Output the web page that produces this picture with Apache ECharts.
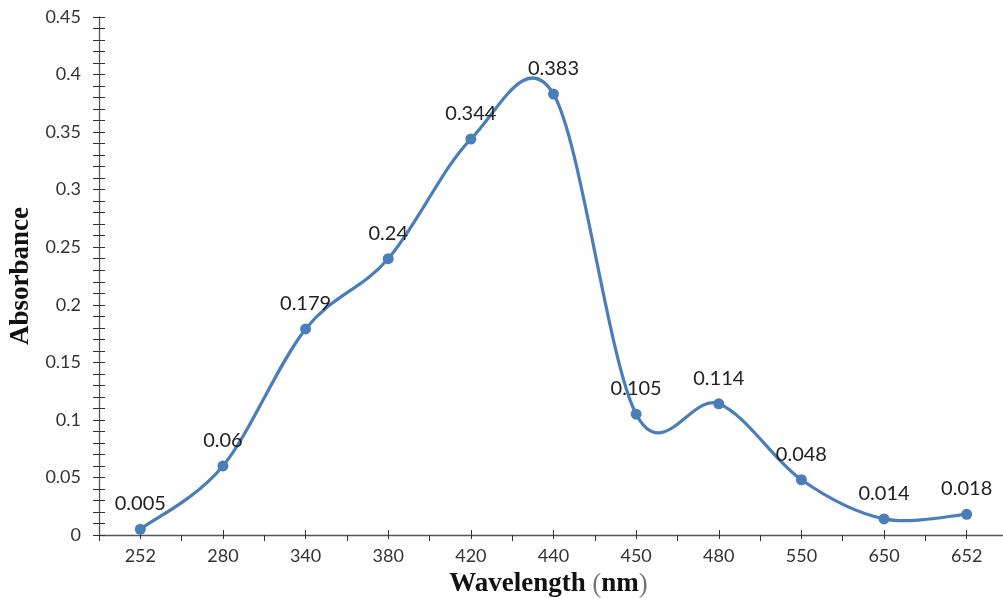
<!DOCTYPE html>
<html><head><meta charset="utf-8">
<script src="https://cdn.jsdelivr.net/npm/echarts@6/dist/echarts.min.js"></script>
<style>html,body{margin:0;padding:0;background:#fff}#c{width:1003px;height:598px}</style>
</head><body><div id="c"></div>
<script>
const categories = ['252','280','340','380','420','440','450','480','550','650','652'];
const absorbance = [0.005,0.06,0.179,0.24,0.344,0.383,0.105,0.114,0.048,0.014,0.018];
const yTicks = {min:0,max:0.45,interval:0.05};
const labelFont = 'Lato, "Open Sans", sans-serif';
const serif = '"Liberation Serif", "Times New Roman", serif';
const lineColor = '#4a7ebb';
const chart = echarts.init(document.getElementById('c'));
const grid = {left:99,right:-5,top:17,bottom:63,containLabel:false,outerBoundsMode:'none'};
const yBase = {type:'value',min:yTicks.min,max:yTicks.max,interval:yTicks.interval};
const curveData = absorbance.map((v,i)=>[i,v]);
const n = absorbance.length;
function renderSegment(params, api){
  const i = params.dataIndexInside;
  if (i >= n-1) return null;
  const pt = k => { k = Math.max(0, Math.min(n-1, k)); return api.coord([api.value(0,k), api.value(1,k)]); };
  const p0 = pt(i-1), p1 = pt(i), p2 = pt(i+1), p3 = pt(i+2);
  const c1 = [p1[0]+(p2[0]-p0[0])/6, p1[1]+(p2[1]-p0[1])/6];
  const c2 = [p2[0]-(p3[0]-p1[0])/6, p2[1]-(p3[1]-p1[1])/6];
  return {type:'bezierCurve',
    shape:{x1:p1[0],y1:p1[1],x2:p2[0],y2:p2[1],cpx1:c1[0],cpy1:c1[1],cpx2:c2[0],cpy2:c2[1]},
    style:{stroke:lineColor,lineWidth:3.2,fill:null,lineCap:'round'}};
}
chart.setOption({
  animation:false,
  grid:grid,
  xAxis:[
    {type:'category',data:categories,boundaryGap:true,position:'bottom',
     axisLine:{lineStyle:{color:'#555',width:1.3}},
     axisTick:{show:true,alignWithLabel:false,length:6,lineStyle:{color:'#333'}},
     axisLabel:{color:'#333',fontSize:18,fontFamily:labelFont,margin:12},
     name:'{b|Wavelength}  {g|(}{b|nm}{g|)}',nameLocation:'middle',nameGap:36,
     nameTextStyle:{padding:[0,0,0,-10],rich:{
       b:{fontFamily:serif,fontWeight:'bold',fontSize:27,color:'#111'},
       g:{fontFamily:serif,fontWeight:'normal',fontSize:27,color:'#777'}}}},
    {type:'category',data:categories,boundaryGap:true,position:'bottom',
     axisLine:{show:false},axisLabel:{show:false},
     axisTick:{show:true,alignWithLabel:true,inside:true,length:5,lineStyle:{color:'#333'}}},
    {type:'category',data:categories,boundaryGap:true,position:'bottom',
     axisLine:{show:false},axisLabel:{show:false},
     axisTick:{show:true,alignWithLabel:true,inside:false,length:4,lineStyle:{color:'#333'}}}
  ],
  yAxis:[
    Object.assign({},yBase,{
     axisLine:{show:true,lineStyle:{color:'#555',width:1.3}},
     axisTick:{show:true,length:6,lineStyle:{color:'#333'}},
     minorTick:{show:true,splitNumber:5,length:6,lineStyle:{color:'#333'}},
     splitLine:{show:false},
     axisLabel:{color:'#333',fontSize:18,fontFamily:labelFont,margin:18},
     name:'Absorbance',nameLocation:'middle',nameGap:63,
     nameTextStyle:{fontFamily:serif,fontWeight:'bold',fontSize:27,color:'#111'}}),
    Object.assign({},yBase,{position:'left',
     axisLine:{show:false},axisLabel:{show:false},splitLine:{show:false},
     axisTick:{show:true,inside:true,length:6,lineStyle:{color:'#333'}},
     minorTick:{show:true,splitNumber:5,length:6,lineStyle:{color:'#333'}}})
  ],
  series:[{
    type:'custom',data:curveData,xAxisIndex:0,yAxisIndex:0,
    renderItem:renderSegment,z:2
  },{
    type:'line',data:absorbance,xAxisIndex:0,yAxisIndex:0,
    symbol:'circle',symbolSize:11,
    lineStyle:{opacity:0},
    itemStyle:{color:lineColor},z:3,
    label:{show:true,position:'top',distance:10,color:'#222',fontSize:20,fontFamily:labelFont,
      formatter:p=>String(p.value)}
  }]
});
</script></body></html>
